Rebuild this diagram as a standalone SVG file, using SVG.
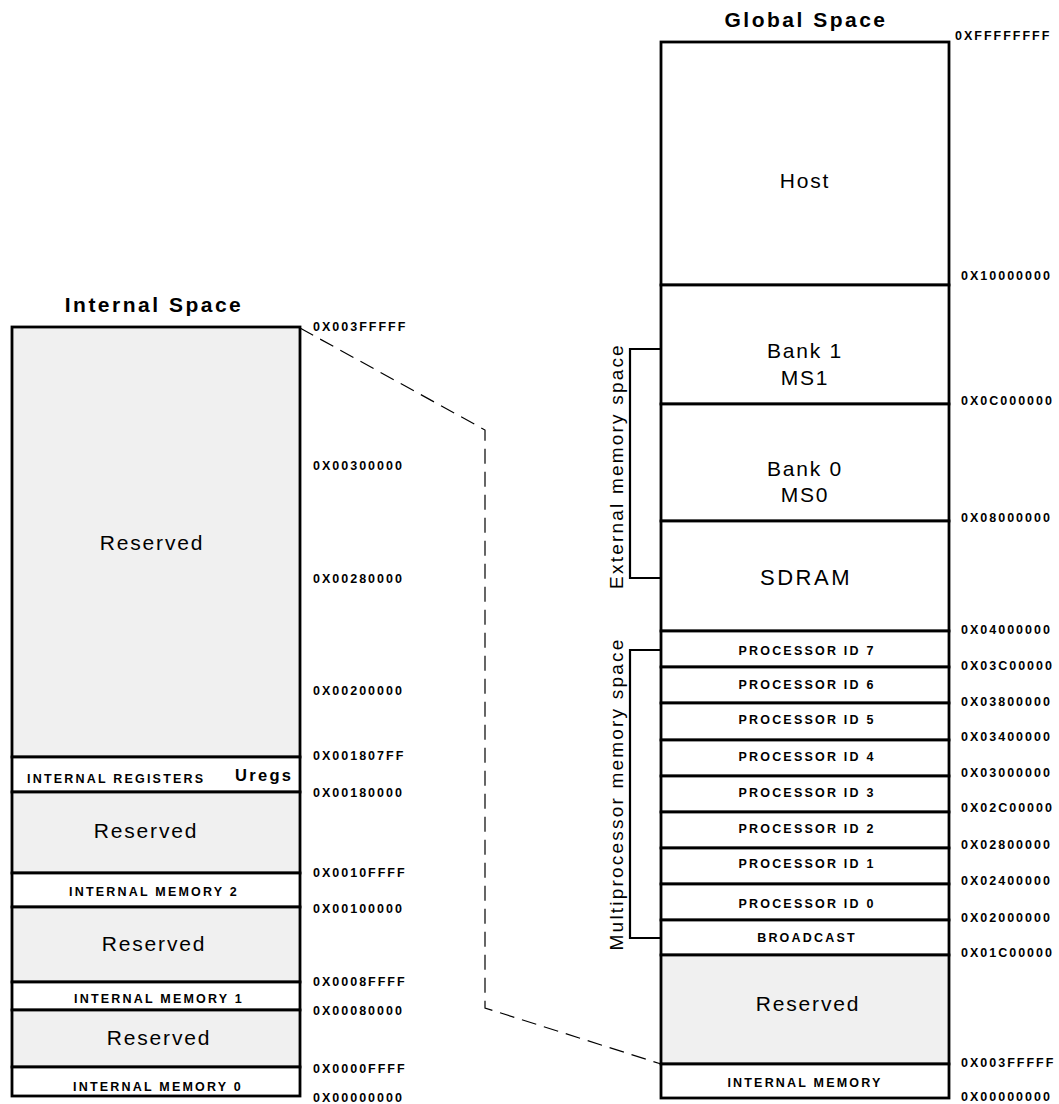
<svg xmlns="http://www.w3.org/2000/svg" width="1059" height="1104" viewBox="0 0 1059 1104">
  <style>
    text { font-family: "Liberation Sans", Arial, sans-serif; fill: #000; }
    .title { font-size: 21px; font-weight: bold; letter-spacing: 2.5px; text-anchor: middle; }
    .addr { font-size: 12.5px; font-weight: bold; letter-spacing: 2px; }
    .lbl { font-size: 12.5px; font-weight: bold; letter-spacing: 2.2px; text-anchor: middle; }
    .big { font-size: 21px; letter-spacing: 1.8px; text-anchor: middle; }
    .side { font-size: 19px; letter-spacing: 2.2px; text-anchor: middle; }
    .res { fill: #f0f0f0; stroke: #000; stroke-width: 2.8; }
    .reg { fill: #fff; stroke: #000; stroke-width: 2.8; }
    .dash { fill: none; stroke: #000; stroke-width: 1.2; stroke-dasharray: 15 8; }
    .brace { fill: none; stroke: #000; stroke-width: 2.2; }
  </style>

  <!-- Internal address space -->
  <text class="title" x="154" y="312">Internal Space</text>

  <g id="int-reserved-top">
    <rect class="res" x="12" y="327" width="288" height="430"/>
    <text class="big" x="152" y="550">Reserved</text>
  </g>
  <g id="int-registers">
    <rect class="reg" x="12" y="757" width="288" height="35"/>
    <text class="lbl" x="27" y="783" style="text-anchor:start">INTERNAL REGISTERS</text>
    <text x="235" y="781" style="font-size:16.5px;font-weight:bold;letter-spacing:2.3px">Uregs</text>
  </g>
  <g id="int-reserved-2">
    <rect class="res" x="12" y="792" width="288" height="81"/>
    <text class="big" x="146" y="838">Reserved</text>
  </g>
  <g id="int-memory-2">
    <rect class="reg" x="12" y="873" width="288" height="34"/>
    <text class="lbl" x="154" y="896">INTERNAL MEMORY 2</text>
  </g>
  <g id="int-reserved-1">
    <rect class="res" x="12" y="907" width="288" height="75"/>
    <text class="big" x="154" y="951">Reserved</text>
  </g>
  <g id="int-memory-1">
    <rect class="reg" x="12" y="982" width="288" height="28"/>
    <text class="lbl" x="159" y="1003">INTERNAL MEMORY 1</text>
  </g>
  <g id="int-reserved-0">
    <rect class="res" x="12" y="1010" width="288" height="57"/>
    <text class="big" x="159" y="1045">Reserved</text>
  </g>
  <g id="int-memory-0">
    <rect class="reg" x="12" y="1067" width="288" height="29"/>
    <text class="lbl" x="158" y="1091">INTERNAL MEMORY 0</text>
  </g>

  <g id="int-addresses">
    <text class="addr" x="313" y="331">0X003FFFFF</text>
    <text class="addr" x="313" y="470">0X00300000</text>
    <text class="addr" x="313" y="583">0X00280000</text>
    <text class="addr" x="313" y="695">0X00200000</text>
    <text class="addr" x="313" y="760">0X001807FF</text>
    <text class="addr" x="313" y="797">0X00180000</text>
    <text class="addr" x="313" y="877">0X0010FFFF</text>
    <text class="addr" x="313" y="913">0X00100000</text>
    <text class="addr" x="313" y="986">0X0008FFFF</text>
    <text class="addr" x="313" y="1015">0X00080000</text>
    <text class="addr" x="313" y="1073">0X0000FFFF</text>
    <text class="addr" x="313" y="1102">0X00000000</text>
  </g>

  <!-- Global address space -->
  <text class="title" x="806" y="27">Global Space</text>

  <g id="host">
    <rect class="reg" x="661" y="42" width="288" height="243"/>
    <text class="big" x="805" y="188">Host</text>
  </g>
  <g id="bank-1">
    <rect class="reg" x="661" y="285" width="288" height="119"/>
    <text class="big" x="805" y="358">Bank 1</text>
    <text class="big" x="805" y="385">MS1</text>
  </g>
  <g id="bank-0">
    <rect class="reg" x="661" y="404" width="288" height="117"/>
    <text class="big" x="805" y="476">Bank 0</text>
    <text class="big" x="805" y="502">MS0</text>
  </g>
  <g id="sdram">
    <rect class="reg" x="661" y="521" width="288" height="110"/>
    <text class="big" x="806" y="585" style="font-size:22px;letter-spacing:2.5px">SDRAM</text>
  </g>
  <g id="pid-7">
    <rect class="reg" x="661" y="631" width="288" height="36"/>
    <text class="lbl" x="807" y="655">PROCESSOR ID 7</text>
  </g>
  <g id="pid-6">
    <rect class="reg" x="661" y="667" width="288" height="36"/>
    <text class="lbl" x="807" y="689">PROCESSOR ID 6</text>
  </g>
  <g id="pid-5">
    <rect class="reg" x="661" y="703" width="288" height="37"/>
    <text class="lbl" x="807" y="724">PROCESSOR ID 5</text>
  </g>
  <g id="pid-4">
    <rect class="reg" x="661" y="740" width="288" height="36"/>
    <text class="lbl" x="807" y="761">PROCESSOR ID 4</text>
  </g>
  <g id="pid-3">
    <rect class="reg" x="661" y="776" width="288" height="36"/>
    <text class="lbl" x="807" y="797">PROCESSOR ID 3</text>
  </g>
  <g id="pid-2">
    <rect class="reg" x="661" y="812" width="288" height="36"/>
    <text class="lbl" x="807" y="833">PROCESSOR ID 2</text>
  </g>
  <g id="pid-1">
    <rect class="reg" x="661" y="848" width="288" height="36"/>
    <text class="lbl" x="807" y="868">PROCESSOR ID 1</text>
  </g>
  <g id="pid-0">
    <rect class="reg" x="661" y="884" width="288" height="36"/>
    <text class="lbl" x="807" y="908">PROCESSOR ID 0</text>
  </g>
  <g id="broadcast">
    <rect class="reg" x="661" y="920" width="288" height="35"/>
    <text class="lbl" x="807" y="942">BROADCAST</text>
  </g>
  <g id="global-reserved">
    <rect class="res" x="661" y="955" width="288" height="109"/>
    <text class="big" x="808" y="1011">Reserved</text>
  </g>
  <g id="internal-memory">
    <rect class="reg" x="661" y="1064" width="288" height="34"/>
    <text class="lbl" x="805" y="1087">INTERNAL MEMORY</text>
  </g>

  <g id="global-addresses">
    <text class="addr" x="955" y="40">0XFFFFFFFF</text>
    <text class="addr" x="961" y="280">0X10000000</text>
    <text class="addr" x="961" y="405">0X0C000000</text>
    <text class="addr" x="961" y="522">0X08000000</text>
    <text class="addr" x="961" y="634">0X04000000</text>
    <text class="addr" x="961" y="670">0X03C00000</text>
    <text class="addr" x="961" y="706">0X03800000</text>
    <text class="addr" x="961" y="741">0X03400000</text>
    <text class="addr" x="961" y="777">0X03000000</text>
    <text class="addr" x="961" y="812">0X02C00000</text>
    <text class="addr" x="961" y="849">0X02800000</text>
    <text class="addr" x="961" y="885">0X02400000</text>
    <text class="addr" x="961" y="922">0X02000000</text>
    <text class="addr" x="961" y="957">0X01C00000</text>
    <text class="addr" x="961" y="1067">0X003FFFFF</text>
    <text class="addr" x="961" y="1101">0X00000000</text>
  </g>

  <!-- Connectors: zoom lines and range brackets -->
  <g id="connectors">
    <polyline class="dash" points="300,328 485,430 485,1008 661,1064"/>
    <polyline class="brace" points="661,349 630,349 630,578 661,578"/>
    <polyline class="brace" points="661,650 630,650 630,938 661,938"/>
  </g>

  <g id="range-labels">
    <text class="side" transform="translate(623,466) rotate(-90)">External memory space</text>
    <text class="side" transform="translate(623,794) rotate(-90)">Multiprocessor memory space</text>
  </g>
</svg>
